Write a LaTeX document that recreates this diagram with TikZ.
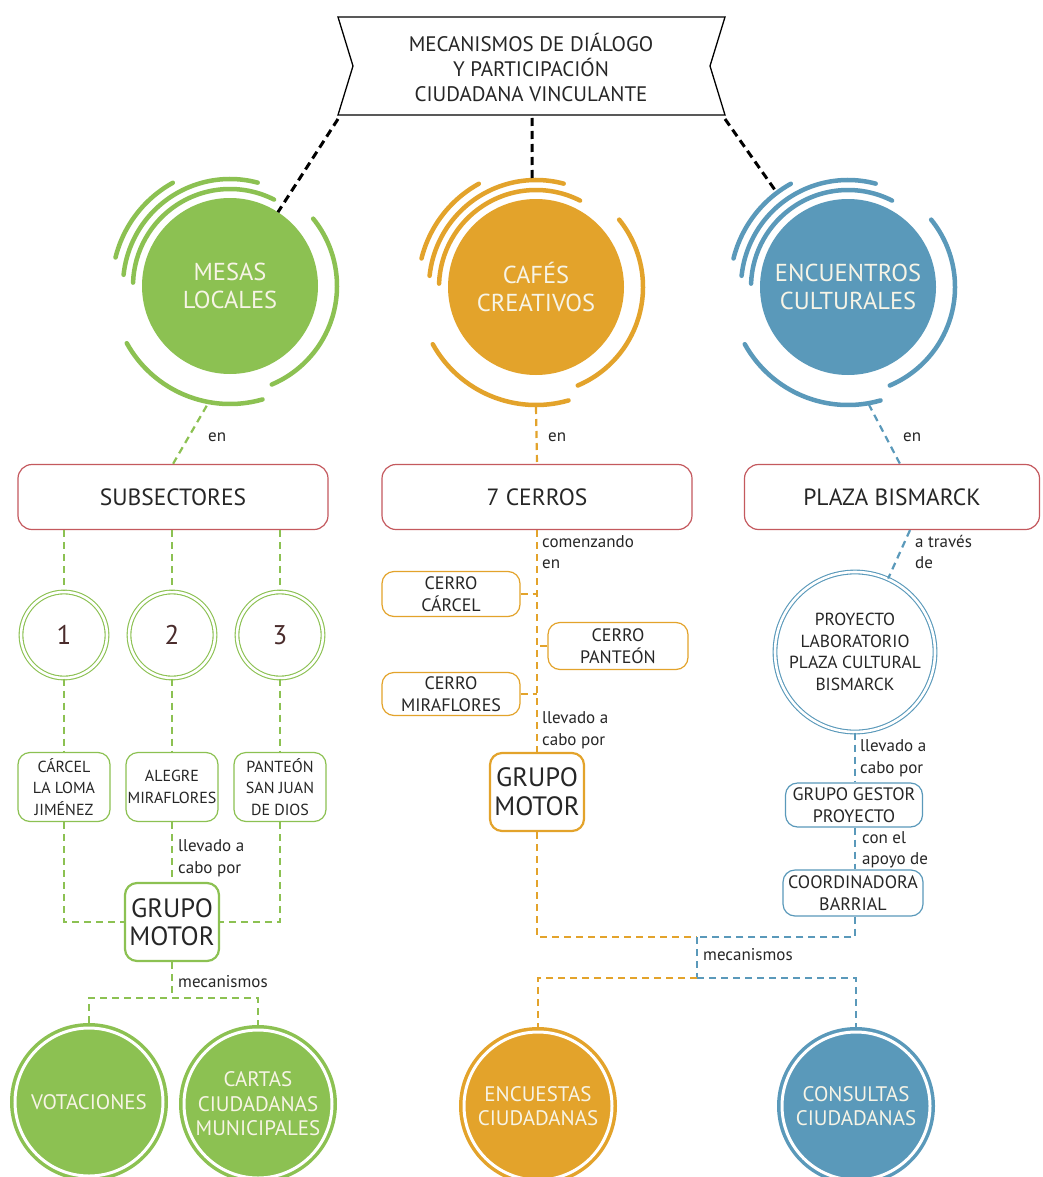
\documentclass[tikz,border=0pt]{standalone}
\usepackage{fontspec}
\setmainfont{PT Sans}
\usetikzlibrary{calc}
\definecolor{cg}{HTML}{8CC152}
\definecolor{co}{HTML}{E3A32B}
\definecolor{cb}{HTML}{5A99BA}
\definecolor{cr}{HTML}{C4595E}
\definecolor{txt}{HTML}{262626}
\definecolor{cream}{HTML}{F7F4E6}
\definecolor{numcol}{HTML}{4A2C2C}
\newcommand\ringarcs[2]{%
 \draw[#2,line width=4.5pt,line cap=round] ($(#1)+(63:97pt)$) arc[start angle=63,end angle=178,radius=97pt];
 \draw[#2,line width=4.5pt,line cap=round] ($(#1)+(75:107pt)$) arc[start angle=75,end angle=174,radius=107pt];
 \draw[#2,line width=4.5pt,line cap=round] ($(#1)+(119:118pt)$) arc[start angle=119,end angle=166,radius=118pt];
 \draw[#2,line width=4.5pt,line cap=round] ($(#1)+(39:107pt)$) arc[start angle=39,end angle=-67,radius=107pt];
 \draw[#2,line width=4.5pt,line cap=round] ($(#1)+(209:118pt)$) arc[start angle=209,end angle=286,radius=118pt];
}
\begin{document}
\begin{tikzpicture}[x=1pt,y=-1pt,
  bigc/.style={circle,minimum size=176pt,inner sep=0pt,text=cream,align=center,font=\fontsize{24.5}{28}\selectfont},
  dsh/.style={line width=2.2pt,dash pattern=on 7pt off 5pt},
  blk/.style={line width=3pt,dash pattern=on 8pt off 5pt,draw=black},
  place/.style={draw=cr,line width=1.2pt,rounded corners=14pt,minimum height=65pt,text=txt,font=\fontsize{23.5}{26}\selectfont,inner sep=0pt},
  sbox/.style={draw,line width=1.2pt,rounded corners=12pt,align=center,text=txt,font=\fontsize{16}{21.5}\selectfont,inner sep=0pt},
  gm/.style={draw,line width=2.2pt,rounded corners=12pt,align=center,text=txt,font=\fontsize{26.5}{28}\selectfont,minimum width=94pt,minimum height=78pt,inner sep=0pt},
  lbl/.style={anchor=west,align=left,inner sep=0pt,text=txt,font=\fontsize{17}{21.5}\selectfont},
  numnode/.style={circle,draw=cg,double,double distance=2.6pt,line width=1.1pt,minimum size=86pt,inner sep=0pt,text=numcol,font=\fontsize{27}{30}\selectfont},
  endc/.style={circle,minimum size=158pt,inner sep=0pt,text=cream,align=center,font=\fontsize{21}{24.5}\selectfont},
]
\useasboundingbox[fill=white] (0,0) rectangle (1043,1177);

% banner
\draw[line width=1.3pt] (338,17) -- (725,17) -- (710,66) -- (725,115) -- (338,115) -- (353,66) -- cycle;
\node[align=center,font=\fontsize{21}{25}\selectfont,text=txt] (banner) at (531,67) {MECANISMOS DE DIÁLOGO\\Y PARTICIPACIÓN\\CIUDADANA VINCULANTE};
\coordinate (b1) at (338,119);
\coordinate (b2) at (532,118);
\coordinate (b3) at (725,119);

% big circles
\node[bigc,fill=cg] (mesas) at (230,286) {MESAS\\LOCALES};
\node[bigc,fill=co] (cafes) at (536,287) {CAFÉS\\CREATIVOS};
\node[bigc,fill=cb] (encu) at (848,287) {ENCUENTROS\\CULTURALES};
\ringarcs{mesas}{cg}
\ringarcs{cafes}{co}
\ringarcs{encu}{cb}

\draw[blk] (b1) -- ($(mesas)+(57:88pt)$);
\draw[blk] (b2) -- ($(cafes)+(92:109pt)$);
\draw[blk] (b3) -- ($(encu)+(127:120pt)$);

% places
\node[place,minimum width=310pt] (sub) at (173,497) {SUBSECTORES};
\node[place,minimum width=310pt] (cerros) at (537,497) {7 CERROS};
\node[place,minimum width=295pt] (plaza) at (892,497) {PLAZA BISMARCK};

\draw[dsh,cg] ($(mesas)+(259:122pt)$) -- (sub.north);
\draw[dsh,co] ($(cafes)+(270:120pt)$) -- (cerros.north);
\draw[dsh,cb] ($(encu)+(280:119pt)$) -- ($(plaza.north)+(8,0)$);
\node[lbl] (en1) at (208,437) {en};
\node[lbl] (en2) at (548,437) {en};
\node[lbl] (en3) at (903,437) {en};

% left column
\node[numnode] (n1) at (64,635) {1};
\node[numnode] (n2) at (172,635) {2};
\node[numnode] (n3) at (280,635) {3};
\draw[dsh,cg] (sub.south -| n1) -- (n1);
\draw[dsh,cg] (sub.south -| n2) -- (n2);
\draw[dsh,cg] (sub.south -| n3) -- (n3);

\node[sbox,draw=cg,minimum width=92pt,minimum height=69pt] (l1) at (64,787) {CÁRCEL\\LA LOMA\\JIMÉNEZ};
\node[sbox,draw=cg,minimum width=92pt,minimum height=69pt] (l2) at (172,787) {ALEGRE\\MIRAFLORES};
\node[sbox,draw=cg,minimum width=92pt,minimum height=69pt] (l3) at (280,787) {PANTEÓN\\SAN JUAN\\DE DIOS};
\draw[dsh,cg] (n1) -- (l1);
\draw[dsh,cg] (n2) -- (l2);
\draw[dsh,cg] (n3) -- (l3);

\node[gm,draw=cg] (gml) at (172,922) {GRUPO\\MOTOR};
\draw[dsh,cg] (l2) -- (gml);
\draw[dsh,cg] (l1.south) |- (gml.west);
\draw[dsh,cg] (l3.south) |- (gml.east);
\node[lbl] (lv1) at (178,858) {llevado a\\cabo por};

\coordinate (mj) at (172,998);
\node[endc,fill=cg] (vot) at (89,1102) {VOTACIONES};
\node[endc,fill=cg] (car) at (258,1104) {CARTAS\\CIUDADANAS\\MUNICIPALES};
\draw[white,line width=3pt] (vot) circle[radius=74pt];
\draw[white,line width=3pt] (car) circle[radius=74pt];
\draw[dsh,cg] (gml) -- (mj);
\draw[dsh,cg] (vot.north) |- (mj) -| (car.north);
\node[lbl] (mc1) at (178,982) {mecanismos};

% middle column
\node[gm,draw=co,font=\fontsize{26.5}{29}\selectfont] (gmm) at (537,792) {GRUPO\\MOTOR};
\draw[dsh,co] (cerros.south) -- (gmm.north);
\node[sbox,draw=co,minimum width=138pt,minimum height=45pt,font=\fontsize{18}{22}\selectfont] (cc) at (451,594) {CERRO\\CÁRCEL};
\node[sbox,draw=co,minimum width=140pt,minimum height=47pt,font=\fontsize{18}{22}\selectfont] (cp) at (618,646) {CERRO\\PANTEÓN};
\node[sbox,draw=co,minimum width=138pt,minimum height=43pt,font=\fontsize{18}{22}\selectfont] (cm) at (451,694) {CERRO\\MIRAFLORES};
\draw[dsh,co] (cc.east) -- (cc.east -| cerros.south);
\draw[dsh,co] (cp.west) -- (cp.west -| cerros.south);
\draw[dsh,co] (cm.east) -- (cm.east -| cerros.south);
\node[lbl] (com) at (542,552) {comenzando\\en};
\node[lbl] (lv2) at (542,730) {llevado a\\cabo por};

% right column
\node[circle,draw=cb,double,double distance=2.6pt,line width=1.1pt,minimum size=160pt,inner sep=0pt,align=center,text=txt,font=\fontsize{17.5}{21.5}\selectfont] (proj) at (855,652) {PROYECTO\\LABORATORIO\\PLAZA CULTURAL\\BISMARCK};
\draw[dsh,cb] ($(plaza.south)+(18,0)$) -- (proj);
\node[lbl] (atr) at (915,552) {a través\\de};
\node[sbox,draw=cb,minimum width=137pt,minimum height=44pt,font=\fontsize{18}{22}\selectfont] (gg) at (854,805) {GRUPO GESTOR\\PROYECTO};
\node[sbox,draw=cb,minimum width=140pt,minimum height=46pt,font=\fontsize{18}{22}\selectfont] (coord) at (853,893) {COORDINADORA\\BARRIAL};
\draw[dsh,cb] (proj.south) -- (gg.north -| proj.south);
\draw[dsh,cb] (gg.south -| proj.south) -- (coord.north -| proj.south);
\node[lbl] (lv3) at (860,758) {llevado a\\cabo por};
\node[lbl] (cea) at (862,850) {con el\\apoyo de};

% bottom merge
\coordinate (mj2) at (697,937);
\coordinate (mj3) at (697,978);
\node[endc,fill=co] (enc) at (538,1106) {ENCUESTAS\\CIUDADANAS};
\node[endc,fill=cb] (cons) at (856,1106) {CONSULTAS\\CIUDADANAS};
\draw[white,line width=3pt] (enc) circle[radius=74pt];
\draw[white,line width=3pt] (cons) circle[radius=74pt];
\draw[dsh,co] (gmm.south) |- (mj2);
\draw[dsh,cb] (coord.south -| proj.south) |- (mj2);
\draw[dsh,cb] (mj2) -- (mj3);
\draw[dsh,co] (mj3) -| (enc.north);
\draw[dsh,cb] (mj3) -| (cons.north);
\node[lbl] (mc2) at (703,955) {mecanismos};
\end{tikzpicture}
\end{document}
